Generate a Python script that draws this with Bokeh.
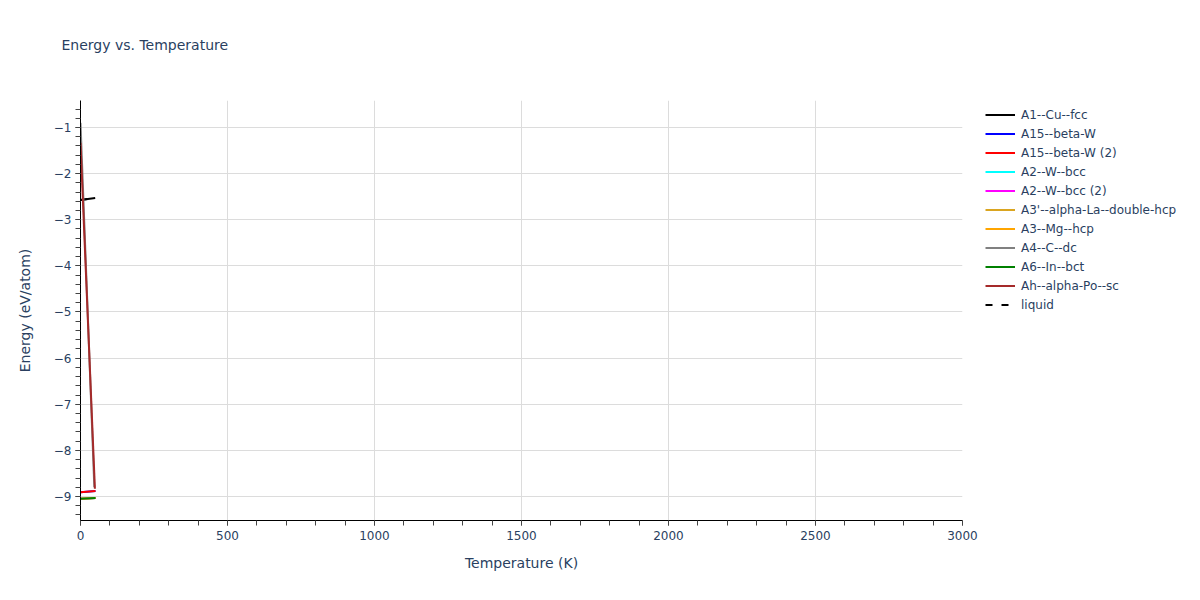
from bokeh.plotting import figure
from bokeh.models import Range1d, SingleIntervalTicker, Legend, LegendItem, Title, CustomJSTickFormatter
from bokeh.embed import file_html
from bokeh.resources import INLINE

# temperature (K) / energy (eV/atom) per phase
names = ["A1--Cu--fcc", "A15--beta-W", "A15--beta-W (2)", "A2--W--bcc", "A2--W--bcc (2)",
         "A3'--alpha-La--double-hcp", "A3--Mg--hcp", "A4--C--dc", "A6--In--bct",
         "Ah--alpha-Po--sc", "liquid"]
colors = ["black", "blue", "red", "cyan", "magenta", "goldenrod", "orange", "gray", "green", "brown", "black"]

# several phases lie underneath others in the picture
T_cu = [0, 50]
E_cu = [-2.57, -2.53]
T_a15 = [0, 51]
E_a15 = [-8.91, -8.88]
T_a15b = [0, 51]
E_a15b = [-8.91, -8.88]
T_a2 = [0, 51]
E_a2 = [-9.05, -9.03]
T_a2b = [0, 51]
E_a2b = [-9.05, -9.03]
T_a3p = [0, 51]
E_a3p = [-9.05, -9.03]
T_a3 = [0, 51]
E_a3 = [-9.05, -9.03]
T_a4 = [0, 47]
E_a4 = [-0.9, -8.8]
T_a6 = [0, 51]
E_a6 = [-9.05, -9.03]
T_ah = [0, 49]
E_ah = [-1.33, -8.83]
T_liq = [0, 50]
E_liq = [-2.57, -2.53]

series = [(T_cu, E_cu), (T_a15, E_a15), (T_a15b, E_a15b), (T_a2, E_a2), (T_a2b, E_a2b),
          (T_a3p, E_a3p), (T_a3, E_a3), (T_a4, E_a4), (T_a6, E_a6), (T_ah, E_ah), (T_liq, E_liq)]

FONT = "DejaVu Sans"
TXT = "#2a3f5f"

p = figure(frame_width=882, frame_height=420, output_backend="svg", toolbar_location=None,
           x_range=Range1d(0, 3000), y_range=Range1d(-9.52, -0.415),
           min_border_left=80, min_border_right=222, min_border_top=100, min_border_bottom=64,
           title=None)
p.outline_line_color = None
p.background_fill_color = "white"
p.border_fill_color = "white"

# blank spacer sits between the frame and the real title
spacer = Title(text=" ", text_font_size="1px", standoff=45)
p.add_layout(spacer, "above")
t = Title(text="Energy vs. Temperature", text_font=FONT, text_font_size="14px",
          text_color=TXT, text_font_style="normal", align="left", offset=-19, standoff=0)
p.add_layout(t, "above")

p.xaxis.ticker = SingleIntervalTicker(interval=500, num_minor_ticks=5)
p.yaxis.ticker = SingleIntervalTicker(interval=1, num_minor_ticks=5)
p.yaxis.formatter = CustomJSTickFormatter(code="return tick < 0 ? '\u2212' + Math.abs(tick) : '' + tick;")

for ax in [p.xaxis[0], p.yaxis[0]]:
    ax.axis_line_color = "black"
    ax.major_tick_line_color = "#444444"
    ax.minor_tick_line_color = "#444444"
    ax.major_tick_out = 5
    ax.major_tick_in = 0
    ax.minor_tick_out = 5
    ax.minor_tick_in = 0
    ax.major_label_text_font = FONT
    ax.major_label_text_font_size = "12px"
    ax.major_label_text_color = TXT
    ax.major_label_standoff = 4
    ax.axis_label_text_font = FONT
    ax.axis_label_text_font_size = "14px"
    ax.axis_label_text_color = TXT
    ax.axis_label_text_font_style = "normal"

p.xaxis.major_label_standoff = 5
p.xaxis.axis_label_standoff = 12
p.yaxis.axis_label_standoff = 18
p.xaxis.axis_label = "Temperature (K)"
p.yaxis.axis_label = "Energy (eV/atom)"

p.xgrid.grid_line_color = "#dcdcdc"
p.ygrid.grid_line_color = "#dcdcdc"

# liquid is drawn first so that it sits under the solid lines
order = [10] + list(range(10))
renderers = {}
for i in order:
    xs, ys = series[i]
    if names[i] == "liquid":
        renderers[i] = p.line(xs, ys, line_color=colors[i], line_width=2, line_dash="7 9")
    else:
        renderers[i] = p.line(xs, ys, line_color=colors[i], line_width=2)

items = [LegendItem(label=names[i], renderers=[renderers[i]]) for i in range(len(names))]

legend = Legend(items=items, location=(23, 206), orientation="vertical",
                border_line_color=None, background_fill_alpha=0,
                padding=0, margin=0, spacing=0,
                glyph_width=30, glyph_height=19, label_height=19, label_standoff=6,
                label_text_font=FONT, label_text_font_size="12px", label_text_color=TXT)
p.add_layout(legend, "right")

open("out.html", "w").write(file_html(p, INLINE))
